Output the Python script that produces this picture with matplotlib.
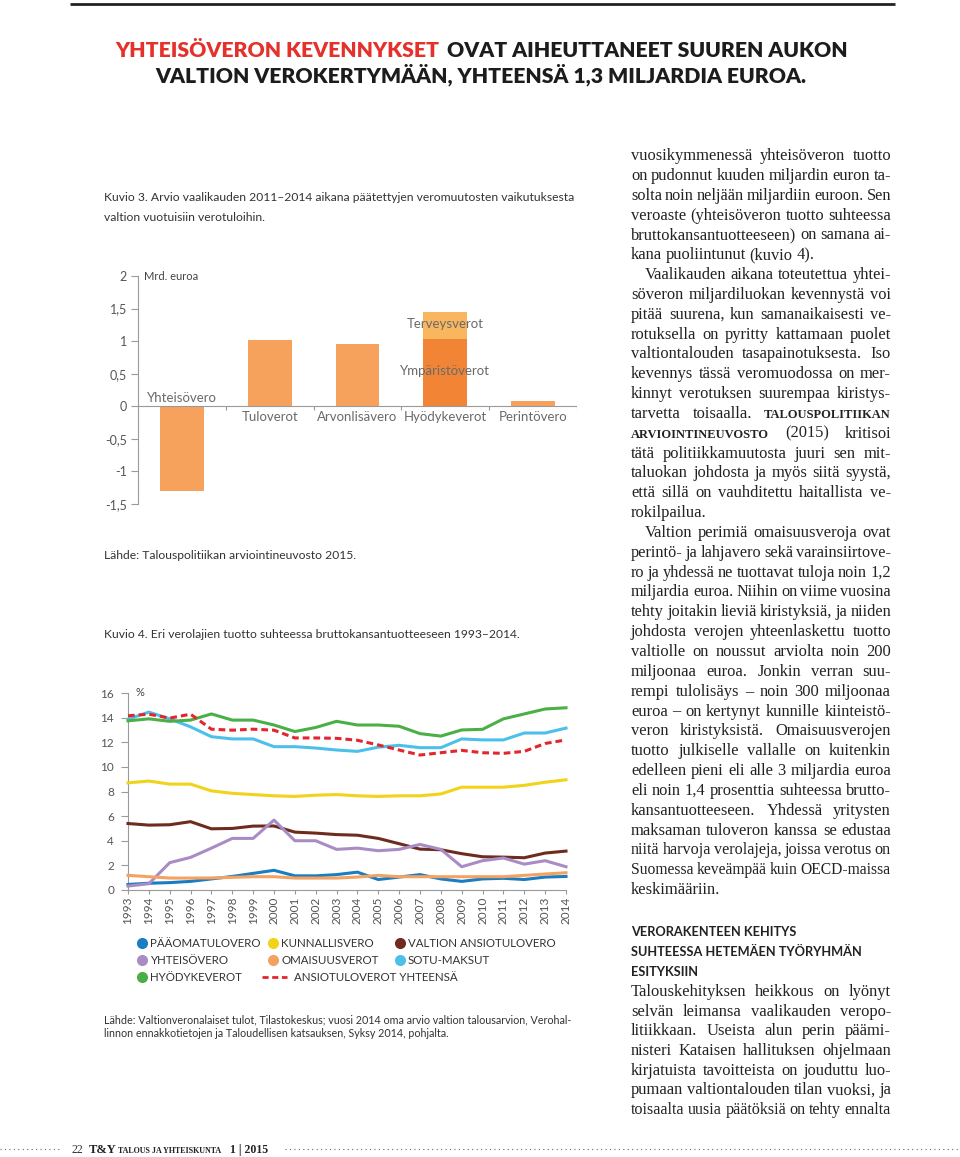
import numpy as np
import matplotlib.pyplot as plt

plt.rcParams['font.family'] = 'Lato'

# Kuvio 3: veromuutosten vaikutus, Mrd. euroa
verot = ['Yhteisövero', 'Tuloverot', 'Arvonlisävero', 'Hyödykeverot', 'Perintövero']
vaikutus = [-1.3, 1.02, 0.95, 1.03, 0.08]   # hyödykeveroissa ympäristöverot
terveysverot = 0.42                         # pinotaan hyödykeverojen päälle
y_tikit = [-1.5, -1, -0.5, 0, 0.5, 1, 1.5, 2]
y_tekstit = ['-1,5', '-1', '-0,5', '0', '0,5', '1', '1,5', '2']

# Kuvio 4: verolajien tuotto / BKT, %
vuodet = list(range(1993, 2015))
paaoma = [0.45, 0.55, 0.6, 0.7, 0.9, 1.1, 1.35, 1.6, 1.15, 1.15, 1.25, 1.45, 0.85, 1.05, 1.25, 0.9, 0.7, 0.9, 0.95, 0.85, 1.05, 1.1]
kunnallis = [8.7, 8.85, 8.6, 8.6, 8.05, 7.85, 7.75, 7.65, 7.6, 7.7, 7.75, 7.65, 7.6, 7.65, 7.65, 7.8, 8.35, 8.35, 8.35, 8.5, 8.75, 8.95]
valtion_ansio = [5.4, 5.27, 5.3, 5.55, 4.97, 5.0, 5.19, 5.2, 4.7, 4.62, 4.5, 4.45, 4.19, 3.76, 3.32, 3.27, 2.95, 2.7, 2.67, 2.62, 3.0, 3.16]
yhteiso = [0.32, 0.51, 2.22, 2.65, 3.4, 4.19, 4.19, 5.68, 4.0, 4.0, 3.3, 3.4, 3.19, 3.3, 3.7, 3.3, 1.89, 2.38, 2.6, 2.1, 2.38, 1.89]
omaisuus = [1.19, 1.08, 0.97, 0.97, 0.98, 1.03, 1.08, 1.08, 0.97, 0.97, 0.97, 1.05, 1.19, 1.08, 1.08, 1.08, 1.08, 1.08, 1.08, 1.19, 1.3, 1.4]
sotu = [13.87, 14.45, 13.9, 13.25, 12.45, 12.27, 12.27, 11.64, 11.64, 11.53, 11.37, 11.26, 11.6, 11.75, 11.56, 11.56, 12.27, 12.19, 12.19, 12.75, 12.75, 13.15]
hyodyke = [13.74, 13.9, 13.7, 13.8, 14.3, 13.8, 13.8, 13.4, 12.87, 13.2, 13.7, 13.4, 13.4, 13.3, 12.7, 12.5, 13.0, 13.05, 13.9, 14.3, 14.7, 14.8]
ansio_yht = [14.15, 14.28, 13.96, 14.28, 13.06, 12.98, 13.06, 12.98, 12.35, 12.35, 12.32, 12.16, 11.78, 11.37, 10.96, 11.15, 11.34, 11.15, 11.1, 11.26, 11.9, 12.19]

sarjat = [('PÄÄOMATULOVERO', paaoma, '#1A7CC1'),
          ('KUNNALLISVERO', kunnallis, '#F1D31A'),
          ('VALTION ANSIOTULOVERO', valtion_ansio, '#6E2B1F'),
          ('YHTEISÖVERO', yhteiso, '#A98BC5'),
          ('OMAISUUSVEROT', omaisuus, '#F4A262'),
          ('SOTU-MAKSUT', sotu, '#4DC0EA'),
          ('HYÖDYKEVEROT', hyodyke, '#4BAF48'),
          ('ANSIOTULOVEROT YHTEENSÄ', ansio_yht, '#E2262E')]

# oikean palstan leipäteksti
teksti = [
    'vuosikymmenessä yhteisöveron tuotto',
    'on pudonnut kuuden miljardin euron ta-',
    'solta noin neljään miljardiin euroon. Sen',
    'veroaste (yhteisöveron tuotto suhteessa',
    'bruttokansantuotteeseen) on samana ai-',
    'kana puoliintunut (kuvio 4).¶',
    '>Vaalikauden aikana toteutettua yhtei-',
    'söveron miljardiluokan kevennystä voi',
    'pitää suurena, kun samanaikaisesti ve-',
    'rotuksella on pyritty kattamaan puolet',
    'valtiontalouden tasapainotuksesta. Iso',
    'kevennys tässä veromuodossa on mer-',
    'kinnyt verotuksen suurempaa kiristys-',
    'tarvetta toisaalla. ^TALOUSPOLITIIKAN',
    '^ARVIOINTINEUVOSTO (2015) kritisoi',
    'tätä politiikkamuutosta juuri sen mit-',
    'taluokan johdosta ja myös siitä syystä,',
    'että sillä on vauhditettu haitallista ve-',
    'rokilpailua.¶',
    '>Valtion perimiä omaisuusveroja ovat',
    'perintö- ja lahjavero sekä varainsiirtove-',
    'ro ja yhdessä ne tuottavat tuloja noin 1,2',
    'miljardia euroa. Niihin on viime vuosina',
    'tehty joitakin lieviä kiristyksiä, ja niiden',
    'johdosta verojen yhteenlaskettu tuotto',
    'valtiolle on noussut arviolta noin 200',
    'miljoonaa euroa. Jonkin verran suu-',
    'rempi tulolisäys – noin 300 miljoonaa',
    'euroa – on kertynyt kunnille kiinteistö-',
    'veron kiristyksistä. Omaisuusverojen',
    'tuotto julkiselle vallalle on kuitenkin',
    'edelleen pieni eli alle 3 miljardia euroa',
    'eli noin 1,4 prosenttia suhteessa brutto-',
    'kansantuotteeseen. Yhdessä yritysten',
    'maksaman tuloveron kanssa se edustaa',
    'niitä harvoja verolajeja, joissa verotus on',
    'Suomessa keveämpää kuin OECD-maissa',
    'keskimääriin.¶',
]
valiotsikko = ['VERORAKENTEEN KEHITYS', 'SUHTEESSA HETEMÄEN TYÖRYHMÄN', 'ESITYKSIIN']
loppu = [
    'Talouskehityksen heikkous on lyönyt',
    'selvän leimansa vaalikauden veropo-',
    'litiikkaan. Useista alun perin päämi-',
    'nisteri Kataisen hallituksen ohjelmaan',
    'kirjatuista tavoitteista on jouduttu luo-',
    'pumaan valtiontalouden tilan vuoksi, ja',
    'toisaalta uusia päätöksiä on tehty ennalta',
]

W, H = 960, 1157
fig = plt.figure(figsize=(9.6, 11.57), dpi=100)
r = fig.canvas.get_renderer()

# koko sivun "pikseliakselit" tekstejä varten
lax = fig.add_axes([0, 0, 1, 1])
lax.set_xlim(0, W)
lax.set_ylim(H, 0)
lax.axis('off')


def leveys(t):
    return t.get_window_extent(r).width


def sovita(t, lev):
    # skaalataan fonttikoko niin että teksti on yhtä leveä kuin alkuperäisessä
    t.set_fontsize(t.get_fontsize() * lev / leveys(t))
    return t.get_fontsize()


# yläviiva ja otsikko
lax.plot([70, 895], [4, 4], color='#222222', lw=2, solid_capstyle='butt')
tf = dict(fontsize=15, fontweight='heavy', va='baseline')
t1 = lax.text(0, 57, 'YHTEISÖVERON KEVENNYKSET', color='#E4312B', **tf)
t2 = lax.text(0, 57, 'OVAT AIHEUTTANEET SUUREN AUKON', color='#1c1c1c', **tf)
koko = 15 * (733 - 8) / (leveys(t1) + leveys(t2))
t1.set_fontsize(koko)
t2.set_fontsize(koko)
t1.set_x(115)
t2.set_x(115 + leveys(t1) + 8)
lax.text(481, 82, 'VALTION VEROKERTYMÄÄN, YHTEENSÄ 1,3 MILJARDIA EUROA.',
         color='#1c1c1c', ha='center', fontsize=koko, fontweight='heavy', va='baseline')

# kuvatekstit
harmaa = '#333333'
k = lax.text(104, 201, 'Kuvio 3. Arvio vaalikauden 2011–2014 aikana päätettyjen veromuutosten vaikutuksesta',
             color=harmaa, fontsize=9)
kk = sovita(k, 474)
lax.text(104, 221, 'valtion vuotuisiin verotuloihin.', color=harmaa, fontsize=kk)
lax.text(104, 559, 'Lähde: Talouspolitiikan arviointineuvosto 2015.', color=harmaa, fontsize=kk)
lax.text(104, 638, 'Kuvio 4. Eri verolajien tuotto suhteessa bruttokansantuotteeseen 1993–2014.',
         color=harmaa, fontsize=kk)
l2 = lax.text(104, 1023, 'Lähde: Valtionveronalaiset tulot, Tilastokeskus; vuosi 2014 oma arvio valtion talousarvion, Verohal-',
              color=harmaa, fontsize=8)
lk = sovita(l2, 474)
lax.text(104, 1037, 'linnon ennakkotietojen ja Taloudellisen katsauksen, Syksy 2014, pohjalta.',
         color=harmaa, fontsize=lk)

# Kuvio 3 pylväät
ax1 = fig.add_axes([138 / W, 1 - 504 / H, 439 / W, 228 / H])
vari = ['#F6A15C'] * len(verot)
vari[3] = '#F28535'
x = np.arange(len(verot))
ax1.bar(x, vaikutus, 0.5, color=vari, zorder=2)
ax1.bar(3, terveysverot, 0.5, bottom=vaikutus[3], color='#F9B65F', zorder=2)
ax1.set_xlim(-0.5, 4.5)
ax1.set_ylim(-1.5, 2)
ax1.axhline(0, color='#9a9a9a', lw=0.8, zorder=3)
ax1.vlines(x + 0.5, -0.05, 0, color='#9a9a9a', lw=0.8)
for s in ['top', 'right', 'bottom']:
    ax1.spines[s].set_visible(False)
ax1.spines['left'].set_color('#9a9a9a')
ax1.spines['left'].set_linewidth(0.8)
ax1.set_xticks([])
ax1.set_yticks(y_tikit)
ax1.set_yticklabels(y_tekstit)
ax1.tick_params(axis='y', length=5, width=0.8, color='#9a9a9a', labelcolor='#555555', labelsize=9, pad=3)
ax1.patch.set_visible(False)
nimi_harmaa = '#6a6a6a'
for i, n in enumerate(verot):
    if vaikutus[i] < 0:
        ax1.text(i, 0.04, n, ha='center', va='bottom', fontsize=9.5, color=nimi_harmaa)
    else:
        ax1.text(i, -0.07, n, ha='center', va='top', fontsize=9.5, color=nimi_harmaa)
ax1.text(3, vaikutus[3] + terveysverot * 0.55, 'Terveysverot', ha='center', va='center',
         fontsize=9.5, color=nimi_harmaa, zorder=4)
ax1.text(3, vaikutus[3] * 0.53, 'Ympäristöverot', ha='center', va='center',
         fontsize=9.5, color=nimi_harmaa, zorder=4)
ax1.text(-0.43, 2, 'Mrd. euroa', va='center', fontsize=8, color='#444444')

# Kuvio 4 viivat
ax2 = fig.add_axes([128 / W, 1 - 890 / H, 438 / W, 197 / H])
for nimi, arvot, c in sarjat:
    if nimi == 'ANSIOTULOVEROT YHTEENSÄ':
        ax2.plot(vuodet, arvot, color=c, lw=2.2, ls=(0, (2.2, 1.3)), zorder=4, clip_on=False)
    else:
        ax2.plot(vuodet, arvot, color=c, lw=2.2, zorder=3, clip_on=False)
ax2.set_xlim(1993, 2014)
ax2.set_ylim(0, 16)
ax2.set_yticks(range(0, 17, 2))
ax2.set_xticks(vuodet)
ax2.set_xticklabels(vuodet, rotation=90)
for s in ['top', 'right']:
    ax2.spines[s].set_visible(False)
for s in ['left', 'bottom']:
    ax2.spines[s].set_color('#9a9a9a')
    ax2.spines[s].set_linewidth(0.8)
ax2.tick_params(axis='y', length=5, width=0.8, color='#9a9a9a', labelcolor='#555555', labelsize=8.5, pad=5)
ax2.tick_params(axis='x', length=3, width=0.8, color='#9a9a9a', labelcolor='#555555', labelsize=8.5, pad=2)
ax2.patch.set_visible(False)
ax2.text(1993.35, 16, '%', va='center', fontsize=8, color='#444444')

# selite
sarake_x = [142, 273, 400]
rivi_y = [943, 960, 977]
mitta = lax.text(0, -50, 'PÄÄOMATULOVERO', fontsize=9)
sk = sovita(mitta, 111)
mitta.remove()
for i, (nimi, arvot, c) in enumerate(sarjat):
    sx = sarake_x[i % 3]
    sy = rivi_y[i // 3]
    if nimi == 'ANSIOTULOVEROT YHTEENSÄ':
        lax.plot([sx - 11, sx + 14], [sy, sy], color=c, lw=2, ls=(0, (2.2, 1.3)))
        lax.text(sx + 21, sy + 4.3, nimi, fontsize=sk, color=harmaa, va='baseline')
    else:
        lax.plot(sx, sy, 'o', ms=8, color=c, mec='none')
        lax.text(sx + 8, sy + 4.3, nimi, fontsize=sk, color=harmaa, va='baseline')

# oikea palsta
serif = 'Liberation Serif'
vasen, oikea = 631, 891


def rivi(y, s):
    sisennys = 14 if s.startswith('>') else 0
    tasaa = not s.endswith('¶')
    s = s.lstrip('>').rstrip('¶')
    tt = []
    for sana in s.split():
        if sana.startswith('^'):
            t = lax.text(0, y, sana[1:], fontsize=9, fontweight='bold', family=serif,
                         color='#222222', va='baseline')
        else:
            t = lax.text(0, y, sana, fontsize=11.9, family=serif, color='#222222', va='baseline')
        tt.append(t)
    ww = [leveys(t) for t in tt]
    x0 = vasen + sisennys
    tila = oikea - x0
    # jos rivi ei mahdu normaalein välein, pienennetään fonttia vähän
    luonnollinen = sum(ww) + 3.2 * (len(tt) - 1)
    if luonnollinen > tila:
        for t in tt:
            t.set_fontsize(t.get_fontsize() * (tila - 3.2 * (len(tt) - 1)) / sum(ww))
        ww = [leveys(t) for t in tt]
    vali = 3.6
    if tasaa and len(tt) > 1:
        vali = (tila - sum(ww)) / (len(tt) - 1)
    for t, w in zip(tt, ww):
        t.set_x(x0)
        x0 += w + vali


for i, s in enumerate(teksti):
    rivi(160 + 19.84 * i, s)

for i, s in enumerate(valiotsikko):
    lax.text(vasen, 936.5 + 19.5 * i, s, fontsize=9.2, fontweight='bold', color='#222222', va='baseline')

for i, s in enumerate(loppu):
    rivi(996 + 19.7 * i, s)

# alatunniste
lax.plot([0, 62], [1149, 1149], color='#666666', lw=0.8, ls=(0, (1, 3)))
lax.plot([285, 960], [1149, 1149], color='#666666', lw=0.8, ls=(0, (1, 3)))
lax.text(72, 1153, '22', family=serif, fontsize=8.5, color='#333333', va='baseline')
lax.text(89, 1153, 'T&Y', family=serif, fontsize=9, fontweight='bold', color='#222222', va='baseline')
tj = lax.text(118, 1153, 'TALOUS JA YHTEISKUNTA', family=serif, fontsize=6.5, fontweight='bold',
              color='#222222', va='baseline')
sovita(tj, 104)
lax.text(230, 1153, '1 | 2015', family=serif, fontsize=8.5, fontweight='bold', color='#222222', va='baseline')

fig.savefig('out.png', dpi=100)
